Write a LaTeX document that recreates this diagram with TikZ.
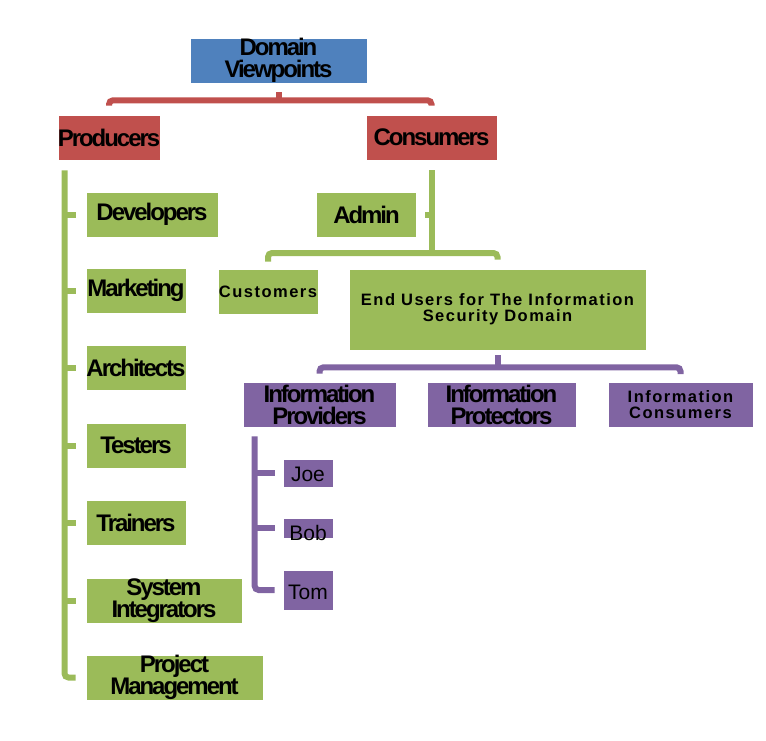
\documentclass[tikz,border=0pt]{standalone}
\usepackage{fontspec}
\setmainfont{Liberation Sans}
\newfontfamily\condfont[LetterSpace=-8.5,BoldFont={Liberation Sans Bold}]{Liberation Sans}
\newfontfamily\widefont[LetterSpace=9,BoldFont={Liberation Sans Bold}]{Liberation Sans}
\definecolor{dvblue}{HTML}{4F81BD}
\definecolor{dvred}{HTML}{C0504D}
\definecolor{dvgreen}{HTML}{9BBB59}
\definecolor{dvpurple}{HTML}{8064A2}
\tikzset{
  box/.style={rectangle, inner sep=0pt, draw=white, line width=0.6pt, align=center, text=black},
  bigtxt/.style={font=\condfont\bfseries\fontsize{24}{22}\selectfont},
  smalltxt/.style={font=\widefont\bfseries\fontsize{16.5}{16}\selectfont},
  nametxt/.style={font=\fontsize{21}{22}\selectfont},
  bluebox/.style={box, fill=dvblue, bigtxt},
  redbox/.style={box, fill=dvred, bigtxt},
  greenbox/.style={box, fill=dvgreen, bigtxt},
  purplebox/.style={box, fill=dvpurple, bigtxt},
  conn/.style={line width=6pt, rounded corners=4pt},
  rconn/.style={conn, draw=dvred},
  gconn/.style={conn, draw=dvgreen},
  pconn/.style={conn, draw=dvpurple},
}
\begin{document}
\begin{tikzpicture}[x=1pt,y=-1pt]
\useasboundingbox (0,0) rectangle (766,740);
% top
\node[bluebox, minimum width=177pt, minimum height=45pt] (dv) at (278.5,60.5) {Domain\\Viewpoints};
\node[redbox, minimum width=100pt, minimum height=45pt] (prod) at (109,137.5) {Producers};
\node[redbox, minimum width=131pt, minimum height=45pt] (cons) at (431.5,137.5) {Consumers};
% producers
\node[greenbox, minimum width=132pt, minimum height=45pt] (dev) at (152,214.5) {Developers};
\node[greenbox, minimum width=100pt, minimum height=45pt] (mkt) at (136,290.5) {Marketing};
\node[greenbox, minimum width=100pt, minimum height=45pt] (arch) at (136,368) {Architects};
\node[greenbox, minimum width=100pt, minimum height=45pt] (test) at (136,445.5) {Testers};
\node[greenbox, minimum width=100pt, minimum height=45pt] (train) at (136,523) {Trainers};
\node[greenbox, minimum width=156pt, minimum height=45pt] (sysint) at (164,600.5) {System\\Integrators};
\node[greenbox, minimum width=177pt, minimum height=45pt] (pm) at (174.5,677.5) {Project\\Management};
% consumers
\node[greenbox, minimum width=100pt, minimum height=45pt] (admin) at (366.5,214.5) {Admin};
\node[box, fill=dvgreen, smalltxt, minimum width=100pt, minimum height=45pt] (cust) at (268,291.5) {Customers};
\node[box, fill=dvgreen, smalltxt, minimum width=297pt, minimum height=81pt] (eu) at (497.5,309.5) {End Users for The Information\\Security Domain};
\node[purplebox, minimum width=153pt, minimum height=45pt] (ip) at (319.5,404.5) {Information\\Providers};
\node[purplebox, minimum width=149pt, minimum height=45pt] (ipr) at (501.5,404.5) {Information\\Protectors};
\node[box, fill=dvpurple, smalltxt, minimum width=145pt, minimum height=45pt] (ic) at (680.5,405) {Information\\Consumers};
% people
\node[box, fill=dvpurple, minimum width=50pt, minimum height=28pt] (joe) at (308,473) {};
\node[box, fill=dvpurple, minimum width=50pt, minimum height=20pt] (bob) at (308,528) {};
\node[box, fill=dvpurple, minimum width=50pt, minimum height=40pt] (tom) at (308,590) {};
\node[nametxt] at ([yshift=-1pt]joe.center) {Joe};
\node[nametxt] at ([yshift=-5pt]bob.center) {Bob};
\node[nametxt] at ([yshift=-2pt]tom.center) {Tom};
% red bracket
\coordinate (rj) at ([yshift=-17pt]dv.south);
\draw[rconn] (dv.south) ++(0,9) -- (rj);
\draw[rconn] ([yshift=9pt]prod.north) |- (rj) -| ([yshift=9pt]cons.north);
% producers spine
\coordinate (ps) at ([xshift=7pt,yshift=-10pt]prod.south west);
\draw[gconn] (ps) |- ([xshift=-10pt]pm.west);
\foreach \n in {dev,mkt,arch,test,train,sysint}
  \draw[gconn] (ps |- \n.west) -- ([xshift=-10pt]\n.west);
% consumers spine
\coordinate (cs) at ([yshift=-10pt]cons.south);
\coordinate (cj) at (cons.south |- 0,253);
\draw[gconn] (cs) -- (cj);
\draw[gconn] (cs |- admin.east) -- ([xshift=8pt]admin.east);
\draw[gconn] ([yshift=7pt]cust.north) |- (cj) -| ([yshift=9pt]eu.north);
% purple bracket
\coordinate (pj) at ([yshift=-17pt]eu.south);
\draw[pconn] ([yshift=-5pt]eu.south) -- (pj);
\draw[pconn] ([yshift=8pt]ip.north) |- (pj) -| ([yshift=8pt]ic.north);
% providers spine
\coordinate (pps) at ([xshift=12pt,yshift=-9pt]ip.south west);
\draw[pconn] (pps) |- ([xshift=-8pt]tom.west);
\foreach \n in {joe,bob}
  \draw[pconn] (pps |- \n.west) -- ([xshift=-8pt]\n.west);
\end{tikzpicture}
\end{document}
